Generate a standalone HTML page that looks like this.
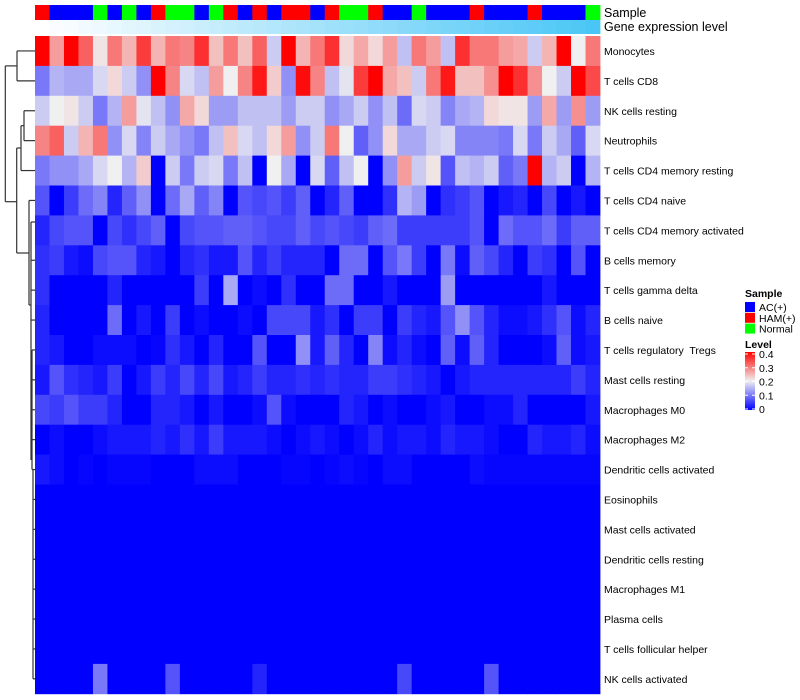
<!DOCTYPE html>
<html><head><meta charset="utf-8"><style>
body{margin:0;background:#fff;width:800px;height:700px;overflow:hidden;font-family:"Liberation Sans",sans-serif}
svg{display:block}
svg text{white-space:pre}
</style></head><body>
<svg id="chart" width="800" height="700"></svg>
<script>
const rowNames=["Monocytes","T cells CD8","NK cells resting","Neutrophils","T cells CD4 memory resting","T cells CD4 naive","T cells CD4 memory activated","B cells memory","T cells gamma delta","B cells naive","T cells regulatory  Tregs","Mast cells resting","Macrophages M0","Macrophages M2","Dendritic cells activated","Eosinophils","Mast cells activated","Dendritic cells resting","Macrophages M1","Plasma cells","T cells follicular helper","NK cells activated"];
const sampleGroups=["HAM","AC","AC","AC","Normal","AC","Normal","AC","HAM","Normal","Normal","AC","Normal","HAM","AC","HAM","AC","HAM","HAM","AC","HAM","Normal","Normal","HAM","AC","AC","Normal","AC","AC","AC","HAM","AC","AC","AC","HAM","AC","AC","AC","Normal"];
const geneLevel=[0,0.03,0.05,0.08,0.1,0.13,0.16,0.18,0.21,0.24,0.26,0.29,0.32,0.34,0.37,0.39,0.42,0.45,0.47,0.5,0.53,0.55,0.58,0.61,0.63,0.66,0.68,0.71,0.74,0.76,0.79,0.82,0.84,0.87,0.89,0.92,0.95,0.97,1];
const r1=[.4,.27,.4,.32,.21,.3,.25,.35,.25,.3,.29,.36,.24,.3,.24,.32,.17,.4,.25,.3,.36,.22,.26,.22,.27,.16,.3,.27,.16,.36,.3,.3,.27,.26,.17,.25,.4,.2,.3];
const r2=[.1,.15,.14,.14,.18,.22,.17,.12,.4,.29,.18,.16,.27,.2,.29,.38,.23,.12,.39,.29,.16,.19,.35,.4,.26,.24,.17,.3,.38,.24,.24,.28,.4,.36,.28,.2,.17,.4,.34];
const r3=[.17,.2,.21,.17,.1,.15,.27,.19,.16,.12,.26,.22,.13,.13,.16,.16,.16,.13,.17,.17,.12,.14,.17,.12,.16,.09,.18,.17,.11,.14,.15,.22,.21,.21,.13,.26,.13,.28,.13];
const r4=[.29,.32,.17,.25,.3,.12,.18,.11,.17,.14,.12,.1,.16,.24,.18,.16,.22,.27,.12,.17,.3,.2,.08,.12,.22,.14,.14,.17,.18,.11,.11,.11,.1,.18,.1,.17,.14,.08,.18];
const r5=[.1,.12,.12,.14,.18,.2,.15,.23,0,.17,.1,.17,.18,.1,.16,0,.2,.14,0,.18,.08,.16,.2,0,.12,.27,.17,.21,.07,.16,.15,.17,.08,.1,.4,.15,.17,0,.15];
const r6=[.07,0,.05,.09,.11,.03,.08,.12,0,.09,.14,.08,.11,0,.07,.06,.07,.05,.08,0,.03,.08,0,0,.04,.15,.13,0,.04,.05,.07,0,.02,.03,0,.06,0,.02,0];
const r7=[.03,.06,.07,.07,0,.06,.04,.06,.08,0,.06,.07,.07,.08,.08,.07,.06,.06,.08,.06,.07,.06,.05,.08,.09,.05,.05,.05,.05,.05,.07,0,.09,.07,.07,.09,.05,.08,.08];
const r8=[.04,.05,.02,.01,.06,.07,.07,.03,.02,0,.03,.04,.02,.02,.07,.03,.05,.03,.03,.03,0,.09,.09,0,.07,.1,.05,0,.1,.01,.08,.06,.03,0,.05,.04,0,.07,0];
const r9=[.04,0,0,0,0,.03,0,0,0,0,0,.05,0,.14,0,.01,0,.04,0,0,.09,.09,0,0,.02,0,0,0,.13,0,0,0,0,0,0,.02,0,0,0];
const r10=[.03,0,0,0,0,.09,0,.02,0,.05,0,.01,0,0,.01,0,.06,.06,.06,.02,.04,0,.05,.05,0,.05,.03,.02,.07,.12,.07,.03,.01,.01,.02,.04,.07,.01,.03];
const r11=[.03,.02,0,0,.01,.01,.01,0,.005,.04,.02,0,.03,0,0,.07,0,0,.12,.02,.08,.03,0,.11,.01,.03,.01,0,.08,.01,.08,.03,0,0,0,.01,.08,.01,.02];
const r12=[.02,.07,.04,.03,.02,.05,0,.02,.05,.03,.06,.03,.06,.02,.03,.05,.03,.03,.04,.03,.04,.03,.03,.05,.05,.04,.03,.02,0,.02,.03,.03,.03,.03,.03,.03,.03,.05,.03];
const r13=[.06,.05,.07,.05,.05,.03,0,0,.03,.03,.02,0,.02,0,0,.01,.07,.01,0,0,0,.03,.02,0,.01,0,0,.01,.02,0,0,.01,.01,.03,0,0,0,0,.02];
const r14=[0,.01,0,0,.01,.02,.02,.02,.03,.02,.04,.02,.05,.02,.02,.02,.01,0,.01,.02,.01,0,.01,.03,.01,.02,.02,.01,.03,.02,.02,.01,0,0,.03,.02,.02,.03,.01];
const r15=[.02,.01,0,.005,0,.005,.005,.005,0,0,0,.01,.01,.01,0,0,0,.005,.005,0,.005,.01,.005,0,.01,.01,0,0,0,0,.01,.005,.005,.005,.005,.005,.005,.005,.005];
const r16=[0,0,0,0,0,0,0,0,0,0,0,0,0,0,0,0,0,0,0,0,0,0,0,0,0,0,0,0,0,0,0,0,0,0,0,0,0,0,0];
const r17=r16.slice(),r18=r16.slice(),r19=r16.slice(),r20=r16.slice(),r21=r16.slice();
const r22=[0,0,0,0,.1,0,0,0,0,.07,0,0,0,0,0,.03,0,0,0,0,0,0,0,0,0,.06,0,0,0,0,0,.07,0,0,0,0,0,0,0];
const values=[r1,r2,r3,r4,r5,r6,r7,r8,r9,r10,r11,r12,r13,r14,r15,r16,r17,r18,r19,r20,r21,r22];
const levelTicks=[0,0.1,0.2,0.3,0.4];
const groupNames=["AC","HAM","Normal"];
const groupLabels=["AC(+)","HAM(+)","Normal"];

const NS="http://www.w3.org/2000/svg";
const svg=document.getElementById('chart');
function mk(tag,attrs,parent){const e=document.createElementNS(NS,tag);for(const k in attrs)e.setAttribute(k,attrs[k]);(parent||svg).appendChild(e);return e;}
const X0=35,X1=600,Y0=36,RH=29.9;
const CW=(X1-X0)/sampleGroups.length;
const xPos=i=>X0+i*CW;
const yPos=j=>Y0+j*RH;
const groupColor={AC:"#0000FF",HAM:"#FF0000",Normal:"#00FF00"};
function lerp(a,b,t){return Math.round(a+(b-a)*t);}
function valColor(v){v=Math.max(0,Math.min(0.4,v));
 if(v<=0.2){const t=v/0.2;return `rgb(${lerp(0,240,t)},${lerp(0,240,t)},${lerp(255,240,t)})`;}
 const t=(v-0.2)/0.2;return `rgb(${lerp(240,255,t)},${lerp(240,0,t)},${lerp(240,0,t)})`;}
function geneColor(t){return `rgb(${lerp(255,74,t)},${lerp(255,198,t)},${lerp(255,246,t)})`;}

const gS=mk('g',{});


sampleGroups.forEach((g,i)=>{
 const r=mk('rect',{x:xPos(i),y:5,width:CW+0.4,height:15,fill:groupColor[g]},gS);
 
 
});
const gG=mk('g',{});


geneLevel.forEach((v,i)=>{
 const r=mk('rect',{x:xPos(i),y:20,width:CW+0.4,height:14,fill:geneColor(v)},gG);
 
 
});
let t=mk('text',{x:604,y:17,'font-size':12.5,fill:'#000'});t.textContent="Sample";


t=mk('text',{x:604,y:31,'font-size':12.5,fill:'#000'});t.textContent="Gene expression level";



const gH=mk('g',{});


values.forEach((row,j)=>{row.forEach((v,i)=>{
 const r=mk('rect',{x:xPos(i),y:yPos(j),width:CW+0.4,height:RH+0.4,fill:valColor(v)},gH);
 
 
});
 const l=mk('text',{x:604,y:yPos(j)+RH/2+4,'font-size':10.5,fill:'#000','xml:space':'preserve'});
 l.textContent=rowNames[j];
 
 
});

const gD=mk('g',{stroke:'#333','stroke-width':1.2,fill:'none'});


const c=j=>yPos(j)+RH/2;
const segs=[
 [17,c(0),35,c(0)],[17,c(1),35,c(1)],[17,c(0),17,c(1)],
 [24,c(2),35,c(2)],[24,c(3),35,c(3)],[24,c(2),24,c(3)],
 [21,(c(2)+c(3))/2,24,(c(2)+c(3))/2],[21,c(4),35,c(4)],[21,(c(2)+c(3))/2,21,c(4)],
 [16.7,148,21,148],[16.7,148,16.7,253],[16.7,253,29,253],
 [5.3,(c(0)+c(1))/2,17,(c(0)+c(1))/2],[5.3,(c(0)+c(1))/2,5.3,201.7],[5.3,201.7,16.7,201.7],
 [29,c(5),35,c(5)],[29,c(5),29,305],[29,305,31,305],
 [31,222,31,460],[31,222,35,222],[31,c(7),35,c(7)],[31,c(8),35,c(8)],[31,c(9),35,c(9)],
 [32,c(10),32,c(14)],[32,c(10),35,c(10)],[32,c(11),35,c(11)],[32,c(12),35,c(12)],[32,c(13),35,c(13)],[32,c(14),35,c(14)],
 [33,c(14),33,c(21)],[33,c(15),35,c(15)],[33,c(16),35,c(16)],[33,c(17),35,c(17)],[33,c(18),35,c(18)],[33,c(19),35,c(19)],[33,c(20),35,c(20)],[33,c(21),35,c(21)]
];
segs.forEach(s=>mk('line',{x1:s[0],y1:s[1],x2:s[2],y2:s[3]},gD));

const gL=mk('g',{});


t=mk('text',{x:745,y:297,'font-size':10.5,'font-weight':'bold'},gL);t.textContent="Sample";


groupNames.forEach((g,k)=>{
 const y=302+k*10.8;
 const r=mk('rect',{x:745,y:y,width:10,height:10,fill:groupColor[g]},gL);
 
 
 const tx=mk('text',{x:759,y:y+9,'font-size':10.5},gL);tx.textContent=groupLabels[k];
 
 
});
t=mk('text',{x:745,y:348,'font-size':10.5,'font-weight':'bold'},gL);t.textContent="Level";


const defs=mk('defs',{});
const lg=mk('linearGradient',{id:'lvl',x1:0,y1:1,x2:0,y2:0},defs);
[0,0.1,0.2,0.3,0.4].forEach(v=>mk('stop',{offset:v/0.4,'stop-color':valColor(v)},lg));
const cb=mk('rect',{x:745,y:352,width:10,height:58,fill:'url(#lvl)'},gL);


const ly=v=>409-v/0.4*55;
levelTicks.forEach(v=>{
 mk('line',{x1:745,x2:748,y1:ly(v),y2:ly(v),stroke:'#fff','stroke-width':1},gL);
 mk('line',{x1:752,x2:755,y1:ly(v),y2:ly(v),stroke:'#fff','stroke-width':1},gL);
 const tx=mk('text',{x:759,y:ly(v)+4,'font-size':10.5},gL);tx.textContent=String(v);
 
 
});
</script>
</body></html>
